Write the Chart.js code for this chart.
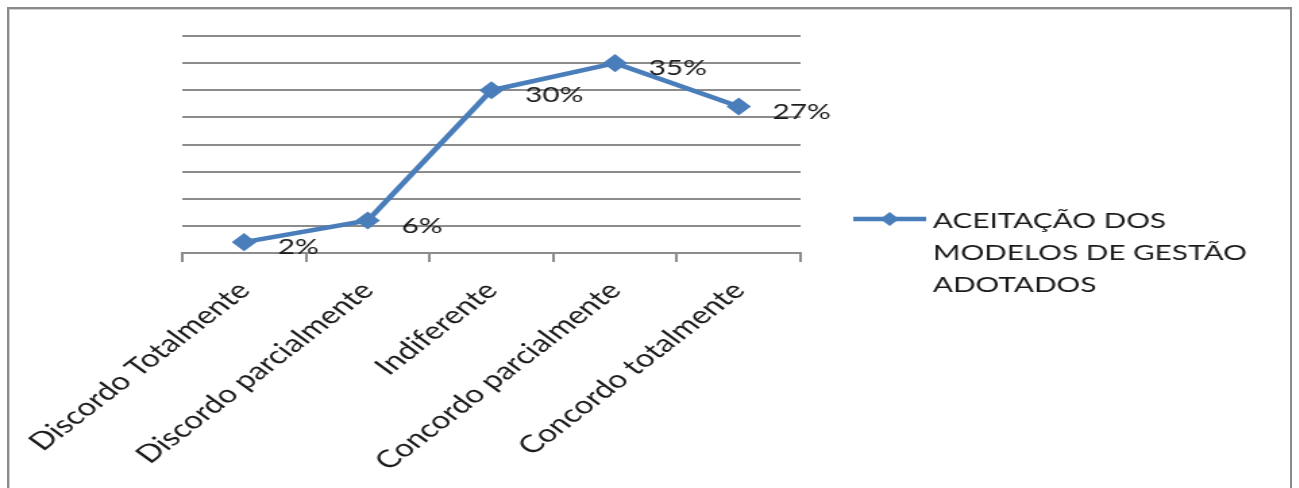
<!DOCTYPE html>
<html>
<head>
<meta charset="utf-8">
<script src="https://cdn.jsdelivr.net/npm/chart.js@4/dist/chart.umd.min.js"></script>
<style>
  html, body { margin: 0; padding: 0; background: #ffffff; overflow: hidden; }
  body { width: 1299px; height: 488px; position: relative; }
  /* the chart is laid out narrow and widened horizontally */
  #wrap { position: absolute; left: 0; top: 0; width: 962px; height: 488px;
          transform: scaleX(1.35); transform-origin: 0 0; }
  #frame { position: absolute; left: 7px; top: 7px; width: 1285px; height: 520px;
           box-sizing: border-box; border: 2px solid #8a8a8a;
           box-shadow: inset 1px 1px 0 #d0d0d0; pointer-events: none; }
</style>
</head>
<body>
<div id="wrap"><canvas id="chart" width="962" height="488"></canvas></div>
<div id="frame"></div>
<script>
// Survey answers and the share of respondents for each
const categories = ['Discordo Totalmente', 'Discordo parcialmente', 'Indiferente', 'Concordo parcialmente', 'Concordo totalmente'];
const percentages = [2, 6, 30, 35, 27];
const seriesName = ['ACEITAÇÃO DOS', 'MODELOS DE GESTÃO', 'ADOTADOS'];
const yMin = 0;
const yMax = 40;
const yStep = 5;

const LINE_BLUE = '#4A7EBB';
const GRID_GREY = '#8c8c8c';
const TEXT = '#1b1b1b';
const FONT = 'Lato, "Open Sans", sans-serif';
const FONT_SIZE = 22;
const AXIS_FONT_SIZE = 24.5;

// value labels to the right of each marker
const valueLabels = {
  id: 'valueLabels',
  afterDatasetsDraw(chart) {
    const ctx = chart.ctx;
    const meta = chart.getDatasetMeta(0);
    ctx.save();
    ctx.font = FONT_SIZE + 'px ' + FONT;
    ctx.fillStyle = TEXT;
    ctx.textAlign = 'left';
    ctx.textBaseline = 'middle';
    meta.data.forEach((pt, i) => {
      ctx.fillText(percentages[i] + '%', pt.x + 25, pt.y + 5);
    });
    ctx.restore();
  }
};

// legend on the right with the series name wrapped over three lines
const sideLegend = {
  id: 'sideLegend',
  afterDraw(chart) {
    const ctx = chart.ctx;
    const ds = chart.data.datasets[0];
    const x0 = 632, x1 = 686, y = 219;
    ctx.save();
    ctx.strokeStyle = ds.borderColor;
    ctx.lineWidth = ds.borderWidth;
    ctx.beginPath();
    ctx.moveTo(x0, y);
    ctx.lineTo(x1, y);
    ctx.stroke();
    const cx = (x0 + x1) / 2, r = 7;
    ctx.fillStyle = ds.borderColor;
    ctx.beginPath();
    ctx.moveTo(cx - r, y);
    ctx.lineTo(cx, y - r);
    ctx.lineTo(cx + r, y);
    ctx.lineTo(cx, y + r);
    ctx.closePath();
    ctx.fill();
    ctx.font = FONT_SIZE + 'px ' + FONT;
    ctx.fillStyle = TEXT;
    ctx.textAlign = 'left';
    ctx.textBaseline = 'middle';
    ds.label.forEach((line, i) => {
      ctx.fillText(line, 691, 221 + i * 32);
    });
    ctx.restore();
  }
};

function draw() {
  new Chart(document.getElementById('chart'), {
    type: 'line',
    data: {
      labels: categories,
      datasets: [{
        label: seriesName,
        data: percentages,
        borderColor: LINE_BLUE,
        backgroundColor: LINE_BLUE,
        borderWidth: 4.5,
        tension: 0,
        fill: false,
        pointStyle: 'rectRot',
        pointRadius: 8,
        pointBorderWidth: 1.5,
        pointBackgroundColor: LINE_BLUE,
        pointBorderColor: LINE_BLUE,
        clip: false
      }]
    },
    options: {
      responsive: false,
      animation: false,
      devicePixelRatio: 1,
      layout: { padding: { left: 135, right: 369, top: 36, bottom: 0 } },
      plugins: {
        legend: { display: false },
        tooltip: { enabled: false },
        title: { display: false }
      },
      scales: {
        x: {
          type: 'category',
          offset: true,
          grid: {
            offset: true,
            drawOnChartArea: false,
            drawTicks: true,
            tickLength: 9,
            color: GRID_GREY,
            lineWidth: 2
          },
          border: { display: true, color: GRID_GREY, width: 2 },
          ticks: {
            autoSkip: false,
            minRotation: 46,
            maxRotation: 46,
            padding: 14,
            color: TEXT,
            font: { family: FONT, size: AXIS_FONT_SIZE }
          },
          afterFit(scale) {
            scale.height = 488 - 253;
            // the layout padding already leaves room for the slanted labels
            scale.paddingLeft = 0;
            scale.paddingRight = 0;
          }
        },
        y: {
          min: yMin,
          max: yMax,
          ticks: { display: false, stepSize: yStep },
          grid: { color: GRID_GREY, lineWidth: 2, drawTicks: false },
          border: { display: false },
          afterFit(scale) { scale.width = 0; }
        }
      }
    },
    plugins: [valueLabels, sideLegend]
  });
}

if (document.fonts && document.fonts.load) {
  document.fonts.load(FONT_SIZE + 'px Lato').then(draw, draw);
} else {
  draw();
}
</script>
</body>
</html>
